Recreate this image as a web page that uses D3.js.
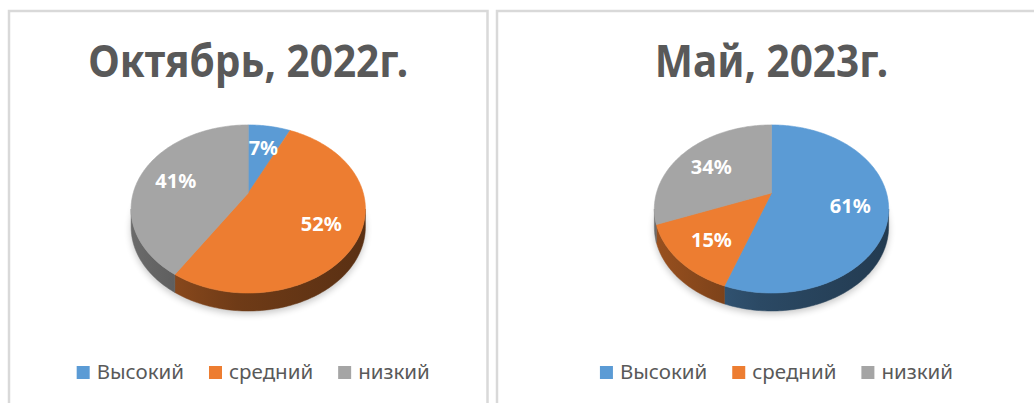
<!DOCTYPE html>
<html>
<head>
<meta charset="utf-8">
<script src="https://cdn.jsdelivr.net/npm/d3@7"></script>
<style>
  html, body { margin: 0; padding: 0; background: #ffffff; }
  svg { display: block; }
</style>
</head>
<body>
<svg id="chart" width="1034" height="403"></svg>
<script>
// ---- data ----
const categories = ["Высокий", "средний", "низкий"];
const titles = ["Октябрь, 2022г.", "Май, 2023г."];
const valuesOct2022 = [7, 52, 41];
const valuesMay2023 = [61, 15, 34];
const seriesColors = ["#5B9BD5", "#ED7D31", "#A5A5A5"];

// ---- layout ----
const svg = d3.select("#chart");
const W = 1034, H = 403;
const panels = [
  { x0: 9, x1: 487.5, title: titles[0], values: valuesOct2022 },
  { x0: 497, x1: 1046, title: titles[1], values: valuesMay2023 }
];
const titleBaseline = 77;
const pieCY = 193, RX = 115, RY = 81, P = 0.19, DEPTH = 18;
const legendBaseline = 379, sq = 13, sqGap = 7, itemGap = 25;
const titleCondense = 0.9;

const color = d3.scaleOrdinal().domain(categories).range(seriesColors);

const defs = svg.append("defs");
const blur = defs.append("filter").attr("id", "shadowBlur")
  .attr("x", "-20%").attr("y", "-20%").attr("width", "140%").attr("height", "140%");
blur.append("feGaussianBlur").attr("stdDeviation", 3.5);

svg.append("rect").attr("width", W).attr("height", H).attr("fill", "#fff");

panels.forEach((pn, pi) => {
  const g = svg.append("g");
  const cx = (pn.x0 + pn.x1) / 2;

  // panel border
  g.append("rect")
    .attr("x", pn.x0).attr("y", 11)
    .attr("width", pn.x1 - pn.x0).attr("height", H + 20)
    .attr("fill", "none").attr("stroke", "#d9d9d9").attr("stroke-width", 2.5);

  // title
  const t = g.append("text")
    .attr("x", cx).attr("y", titleBaseline)
    .attr("text-anchor", "middle")
    .attr("font-family", "'Noto Sans', 'Open Sans', sans-serif")
    .attr("font-weight", 700).attr("font-size", 45)
    .attr("fill", "#595959")
    .text(pn.title);
  const nat = t.node().getComputedTextLength();
  t.attr("textLength", nat * titleCondense).attr("lengthAdjust", "spacingAndGlyphs");

  // projection of pie (perspective tilt)
  const proj = (a, r, dy = 0) => {
    const u = r * Math.sin(a), v = -r * Math.cos(a);
    const f = 1 / (1 - P * v);
    return [cx + RX * u * f, pieCY + RY * v * f + dy];
  };
  const arcPts = (a0, a1, r, dy = 0) => {
    const n = Math.max(2, Math.ceil(Math.abs(a1 - a0) / (Math.PI / 180)));
    return d3.range(n + 1).map(i => proj(a0 + (a1 - a0) * i / n, r, dy));
  };
  const line = d3.line();

  const pie = d3.pie().sort(null).value(d => d.v);
  const arcs = pie(categories.map((c, i) => ({ c, v: pn.values[i] })));

  // gradient for walls per colour
  categories.forEach((c, i) => {
    const base = d3.color(color(c));
    const lg = defs.append("linearGradient")
      .attr("id", `wall-${pi}-${i}`)
      .attr("gradientUnits", "userSpaceOnUse")
      .attr("x1", cx - RX).attr("x2", cx + RX).attr("y1", 0).attr("y2", 0);
    const stops = [[0, 0.64], [0.45, 0.47], [1, 0.38]];
    stops.forEach(([o, k]) => {
      lg.append("stop").attr("offset", o)
        .attr("stop-color", d3.rgb(base.r * k, base.g * k, base.b * k).formatHex());
    });
  });

  // shadow
  const tL = Math.acos(-P), tR = 2 * Math.PI - Math.acos(-P);
  const outline = arcPts(0, 2 * Math.PI, 1, DEPTH + 3);
  g.append("path")
    .attr("d", line(outline) + "Z")
    .attr("fill", "#000").attr("opacity", 0.22)
    .attr("filter", "url(#shadowBlur)");

  // walls
  arcs.forEach((a, i) => {
    const s = Math.max(a.startAngle, tL), e = Math.min(a.endAngle, tR);
    if (e <= s) return;
    const top = arcPts(s, e, 1, 0);
    const bot = arcPts(e, s, 1, DEPTH);
    g.append("path")
      .attr("d", line(top.concat(bot)) + "Z")
      .attr("fill", `url(#wall-${pi}-${i})`)
      .attr("stroke", `url(#wall-${pi}-${i})`).attr("stroke-width", 0.5);
  });

  // top faces
  arcs.forEach((a, i) => {
    const pts = [proj(0, 0)].concat(arcPts(a.startAngle, a.endAngle, 1, 0));
    g.append("path")
      .attr("d", line(pts) + "Z")
      .attr("fill", color(a.data.c))
      .attr("stroke", color(a.data.c)).attr("stroke-width", 0.6);
  });

  // labels
  arcs.forEach(a => {
    const mid = (a.startAngle + a.endAngle) / 2;
    const [lx, ly] = proj(mid, 0.68, 3);
    g.append("text")
      .attr("x", lx).attr("y", ly).attr("dy", "0.36em")
      .attr("text-anchor", "middle")
      .attr("font-family", "'Noto Sans', 'Open Sans', sans-serif")
      .attr("font-weight", 700).attr("font-size", 20)
      .attr("fill", "#ffffff")
      .text(a.data.v + "%");
  });

  // legend
  const lg = g.append("g");
  let x = 0;
  categories.forEach((c, i) => {
    lg.append("rect")
      .attr("x", x).attr("y", legendBaseline - sq)
      .attr("width", sq).attr("height", sq)
      .attr("fill", color(c));
    const tx = lg.append("text")
      .attr("x", x + sq + sqGap).attr("y", legendBaseline)
      .attr("font-family", "'Noto Sans', 'Open Sans', sans-serif")
      .attr("font-size", 20.5).attr("fill", "#595959")
      .text(c);
    x += sq + sqGap + tx.node().getComputedTextLength() + itemGap;
  });
  const lw = x - itemGap;
  lg.attr("transform", `translate(${cx + 5 - lw / 2},0)`);
});
</script>
</body>
</html>
